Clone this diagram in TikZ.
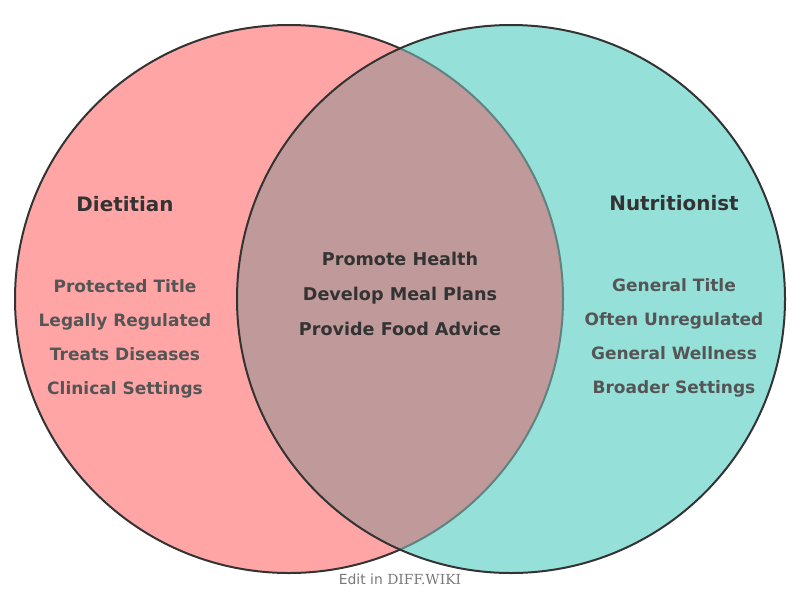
\documentclass[tikz,border=0pt]{standalone}
\usepackage{fontspec}
\setmainfont{DejaVu Sans}
\newfontfamily\wikifont{DejaVu Serif}
\definecolor{dietfill}{HTML}{FFA5A5}
\definecolor{nutrfill}{HTML}{96E0DA}
\definecolor{bothfill}{HTML}{C09A9A}
\definecolor{edgecol}{HTML}{333333}
\definecolor{edgeseen}{HTML}{5E8381}
\definecolor{itemcol}{HTML}{555555}
\definecolor{footcol}{HTML}{777777}
\begin{document}
\begin{tikzpicture}[x=1pt,y=-1pt,node distance=34pt,
        title/.style={font=\fontsize{19.9}{22}\selectfont\bfseries, text=edgecol, text height=0.73em, text depth=0pt, inner sep=0pt},
        item/.style={font=\fontsize{17}{20}\selectfont\bfseries, text=itemcol, text height=0.73em, text depth=0pt, inner sep=0pt},
        shared/.style={item, font=\fontsize{17.6}{20}\selectfont\bfseries, text=edgecol}]
        \useasboundingbox (0,0) rectangle (800,600);
        % the two sets
        \fill[dietfill] (289,299) circle [radius=274pt];
        \draw[edgecol, line width=2pt] (289,299) circle [radius=274pt];
        \fill[nutrfill] (511,299) circle [radius=274pt];
        \begin{scope}
            \clip (511,299) circle [radius=274pt];
            \fill[bothfill] (289,299) circle [radius=274pt];
            \draw[edgeseen, line width=2pt] (289,299) circle [radius=274pt];
        \end{scope}
        \draw[edgecol, line width=2pt] (511,299) circle [radius=274pt];

        \node (diet) [title] at (125,208) {Dietitian};
        \node (nutr) [title] at (674,207) {Nutritionist};

        \node (d1) [item] at (125,289) {Protected Title};
        \node (d2) [item, below of=d1] {Legally Regulated};
        \node (d3) [item, below of=d2] {Treats Diseases};
        \node (d4) [item, below of=d3] {Clinical Settings};

        \node (n1) [item] at (674,288) {General Title};
        \node (n2) [item, below of=n1] {Often Unregulated};
        \node (n3) [item, below of=n2] {General Wellness};
        \node (n4) [item, below of=n3] {Broader Settings};

        \node (s1) [shared] at (400,262) {Promote Health};
        \node (s2) [shared, below of=s1, yshift=-1pt] {Develop Meal Plans};
        \node (s3) [shared, below of=s2, yshift=-1pt] {Provide Food Advice};

        \node (foot) [font=\fontsize{13.9}{16}\selectfont, text=footcol, text height=0.73em, text depth=0pt, inner sep=0pt] at (400,581) {Edit in {\wikifont DIFF.WIKI}};
    \end{tikzpicture}
\end{document}
